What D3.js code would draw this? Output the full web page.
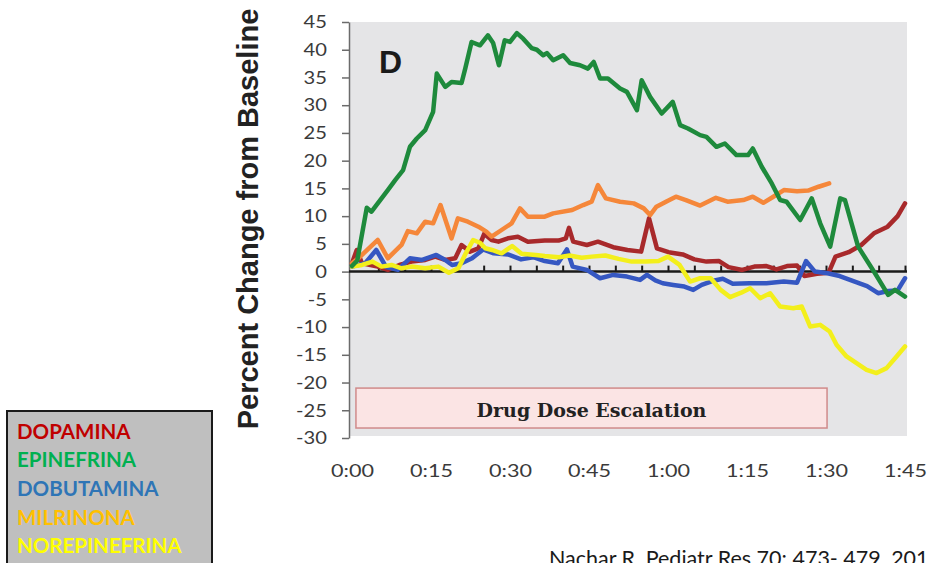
<!DOCTYPE html>
<html>
<head>
<meta charset="utf-8">
<script src="https://cdn.jsdelivr.net/npm/d3@7"></script>
<style>
  html, body { margin: 0; padding: 0; background: #ffffff; }
  svg { display: block; }
</style>
</head>
<body>
<svg id="chart" width="929" height="563"></svg>
<script>
// ---------- DATA (minutes, percent change from baseline) ----------
const dopamina = [
  [0,1.5],[0.9,3.9],[1.9,1.5],[4.9,0.9],[6.8,0.3],[9,1.2],[11.3,1.8],[13.9,2.1],[15.8,2.7],
  [17.7,2.1],[19.6,2.4],[20.8,4.8],[22.4,3.6],[24,4.2],[25.1,6.8],[26.5,5.7],[27.8,5.4],
  [29.6,6],[31.5,6.3],[33.4,5.4],[36.6,5.6],[39.2,5.6],[40.6,6],[41.2,7.9],[42,5.4],
  [44.6,4.8],[46.7,5.4],[49.6,4.4],[52.3,3.9],[54.9,3.6],[56.4,9.6],[57.9,4.2],[60.1,3.5],
  [62.8,3.1],[65,2.2],[67.3,1.8],[69.7,1.9],[71.5,0.8],[74.1,0.3],[76.4,0.9],[78.7,1],
  [80.6,0.4],[82.6,1],[84.5,1.1],[85.9,-0.8],[88.3,-0.4],[90.5,-0.2],[91.8,2.7],[94.3,3.5],
  [96.7,4.8],[99.1,6.9],[101.7,8.1],[103.6,10],[105,12.3]
];
const epinefrina = [
  [0,1],[1,2],[2.8,11.5],[3.7,10.8],[6.8,14.7],[8.2,16.5],[9.7,18.3],[11,22.5],[12.3,24],
  [13.9,25.5],[15.4,28.8],[16.1,35.7],[17.7,33.3],[18.9,34.2],[20.8,34],[21.5,36.6],
  [22.7,41.4],[24.3,40.8],[25.8,42.6],[26.8,41.2],[27.9,37.2],[29,41.7],[30,41.4],[31.3,43],
  [32.5,42],[34.1,40.3],[35.1,40],[36.3,39],[37,39.4],[38.2,38.1],[40.1,39],[41.4,37.6],
  [43.3,37.2],[44.8,36.6],[45.9,37.8],[47.1,34.8],[48.6,34.8],[50.9,33],[52.2,32.4],
  [54.1,29.1],[55,34.5],[56.6,31.5],[58.8,28.5],[60.9,30.6],[62.3,26.4],[63.8,25.8],
  [66.1,24.6],[67.3,24.3],[69.2,22.5],[70.8,23.1],[73,21],[75.2,21],[76.1,22.2],[77.8,18.9],
  [79.7,15.9],[81.3,12.9],[82.5,12.6],[85.1,9.3],[87.3,13.2],[88.9,8.7],[90.8,4.5],
  [92.7,13.2],[93.6,12.9],[96.1,4.5],[99.3,-0.3],[101.8,-4.2],[103.1,-3.3],[105,-4.5]
];
const dobutamina = [
  [0,0.9],[2.5,1.5],[4.6,3.9],[6.5,0.8],[8.7,0.3],[11,2.4],[13.3,2.1],[16,3],[17.7,2.1],
  [19,1.2],[20.8,1.5],[22.8,2.4],[24.9,4],[26.9,3.3],[29.6,3.1],[32.1,2.2],[34.4,2.6],
  [36.6,1.9],[39.1,1.5],[40.8,4],[41.9,0.9],[44.6,0.3],[47.1,-1.2],[49.6,-0.6],[52.2,-0.9],
  [54.7,-1.5],[56,-0.6],[57.6,-1.6],[59,-2.1],[61,-2.4],[63.1,-2.7],[64.8,-3.3],[66.4,-2.4],
  [68.4,-1.7],[70.4,-1.3],[72.3,-2.2],[75.5,-2.1],[78.7,-2.1],[82,-1.8],[84.5,-2],[86.2,1.9],
  [87.9,0],[90.3,-0.3],[92.6,-0.8],[95.2,-1.7],[97.8,-2.6],[99.9,-3.9],[101.8,-3.5],
  [103.6,-3.4],[105,-1.2]
];
const milrinona = [
  [0,1.5],[1.2,2.4],[4.9,5.7],[6.8,2.4],[9.4,4.8],[10.6,7.3],[12.3,6.9],[13.9,9],[15.4,8.7],
  [16.8,12],[18.9,6],[20.1,9.6],[22,9],[24,8.1],[25.5,7.2],[26.5,6.3],[28.4,7.5],[30.3,8.7],
  [31.9,11.4],[33.4,9.9],[36.6,9.9],[38.2,10.5],[41.8,11.1],[43.9,12],[45.5,12.6],[46.7,15.6],
  [48.2,13.2],[50.9,12.6],[53.5,12.3],[55.4,11.4],[56.6,10.2],[57.8,11.7],[59.8,12.7],
  [61.5,13.5],[63.4,12.9],[66.1,11.9],[69.1,13.3],[71.3,12.6],[74.3,12.9],[76.1,13.5],
  [78.1,12.4],[80,13.5],[82,14.7],[84.5,14.5],[86.6,14.6],[88.6,15.3],[90.6,15.9]
];
const norepinefrina = [
  [0,0.9],[1.9,1.2],[3.9,1.8],[5.6,0.9],[7.5,1.2],[9.4,0.6],[11.3,0.9],[13.9,0.6],[16.4,0.9],
  [18.4,-0.2],[20.2,0.6],[21.6,3.3],[23,5.7],[24.3,5.2],[25.3,4.2],[26.6,3.9],[28.4,3.3],
  [30.4,4.6],[32.2,3.2],[34.9,3],[36.6,2.8],[39.3,2.6],[41.3,2.9],[43.6,2.5],[45.5,2.7],
  [48.1,2.9],[50.6,2.3],[53.1,1.8],[55.7,1.8],[58.2,1.9],[60,2.7],[62.2,1.2],[64.2,-1.8],
  [66.1,-1.2],[68.1,-1.2],[70,-3.3],[71.8,-4.6],[73.9,-3.8],[75.6,-3],[77.5,-4.8],[79.4,-3.9],
  [81.3,-6.3],[83.8,-6.6],[85.4,-6.3],[87,-9.9],[88.9,-9.6],[90.7,-10.8],[92,-13.2],
  [93.9,-15.3],[95.8,-16.5],[97.7,-17.7],[99.6,-18.3],[101.5,-17.4],[103.4,-15.3],[105,-13.5]
];

const yTicks = [-30,-25,-20,-15,-10,-5,0,5,10,15,20,25,30,35,40,45];
const xTickMinutes = [0,15,30,45,60,75,90,105];
const zeroTickMinutes = [5,10,15,20,25,30,35,40,45,50,55,60,65,70,75,80,85,90,95,100,105];
const legendNames = ["DOPAMINA","EPINEFRINA","DOBUTAMINA","MILRINONA","NOREPINEFRINA"];
const legendColors = ["#c00000","#00b050","#2e75b6","#ffc000","#ffff00"];
const escalationSpan = [0.75, 90.2];     // minutes
const escalationRange = [-21, -28.2];    // percent

// ---------- LAYOUT ----------
const svg = d3.select("#chart");
const x = d3.scaleLinear().domain([0,105]).range([352,905]);
const y = d3.scaleLinear().domain([-30,45]).range([438,22]);

// plot background
svg.append("rect").attr("x",349).attr("y",22).attr("width",558).attr("height",414)
  .attr("fill","#e5e5e7");

// Y axis
const yAxis = svg.append("g").attr("transform","translate(349,0)")
  .call(d3.axisLeft(y).tickValues(yTicks).tickSize(7).tickSizeOuter(0)
        .tickFormat(d => String(d)));
yAxis.select(".domain").attr("stroke","#6b6b6b").attr("stroke-width",1.5);
yAxis.selectAll(".tick line").attr("stroke","#6b6b6b").attr("stroke-width",1.5);
yAxis.selectAll(".tick text")
  .attr("font-family","Lato, 'Open Sans', sans-serif").attr("font-size",18)
  .attr("fill","#3a3a3a").attr("x",0).attr("dx",0)
  .attr("transform","translate(-22,0) scale(1.12,1)");

// X tick labels
const fmt = m => Math.floor(m/60) + ":" + String(m%60).padStart(2,"0");
const xAxis = svg.append("g").attr("transform","translate(0,458)")
  .call(d3.axisBottom(x).tickValues(xTickMinutes).tickSize(0).tickFormat(fmt));
xAxis.select(".domain").remove();
xAxis.selectAll(".tick text")
  .attr("font-family","Lato, 'Open Sans', sans-serif").attr("font-size",18)
  .attr("fill","#3a3a3a").attr("y",6)
  .attr("transform","scale(1.2,1)");

// zero line with ticks pointing up
svg.append("line").attr("x1",349).attr("x2",907).attr("y1",y(0)).attr("y2",y(0))
  .attr("stroke","#1a1a1a").attr("stroke-width",2.5);
const zAxis = svg.append("g").attr("transform",`translate(0,${y(0)})`)
  .call(d3.axisBottom(x).tickValues(zeroTickMinutes).tickSize(-6).tickFormat(""));
zAxis.select(".domain").remove();
zAxis.selectAll(".tick line").attr("stroke","#1a1a1a").attr("stroke-width",2);

// Drug dose escalation box
svg.append("rect")
  .attr("x",x(escalationSpan[0])).attr("y",y(escalationRange[0]))
  .attr("width",x(escalationSpan[1])-x(escalationSpan[0]))
  .attr("height",y(escalationRange[1])-y(escalationRange[0]))
  .attr("fill","#fbe4e4").attr("stroke","#d08a8a").attr("stroke-width",1.5);
svg.append("text")
  .attr("x",(x(escalationSpan[0])+x(escalationSpan[1]))/2).attr("y",417)
  .attr("text-anchor","middle")
  .attr("font-family","'DejaVu Serif', 'Liberation Serif', serif").attr("font-weight","bold")
  .attr("font-size",19).attr("fill","#222")
  .text("Drug Dose Escalation");

// series
const line = d3.line().x(d => x(d[0])).y(d => y(d[1]));
const seriesList = [
  {data: dopamina, color: "#a8292b"},
  {data: milrinona, color: "#f5873a"},
  {data: dobutamina, color: "#3557c2"},
  {data: norepinefrina, color: "#f3ef1c"},
  {data: epinefrina, color: "#1e8a3c"}
];
svg.append("g").selectAll("path").data(seriesList).join("path")
  .attr("d", s => line(s.data))
  .attr("fill","none").attr("stroke", s => s.color)
  .attr("stroke-width",4.5).attr("stroke-linejoin","round").attr("stroke-linecap","round");

// panel letter
svg.append("text").attr("x",379).attr("y",73)
  .attr("font-family","'Liberation Sans', Arial, sans-serif").attr("font-weight","bold")
  .attr("font-size",32).attr("fill","#1a1a1a").text("D");

// Y title
svg.append("text")
  .attr("transform","translate(258,219) rotate(-90)")
  .attr("text-anchor","middle")
  .attr("font-family","'Liberation Sans', Arial, sans-serif").attr("font-weight","bold")
  .attr("font-size",29).attr("fill","#222")
  .text("Percent Change from Baseline");

// legend box
svg.append("rect").attr("x",7).attr("y",411).attr("width",205).attr("height",170)
  .attr("fill","#bfbfbf").attr("stroke","#1a1a1a").attr("stroke-width",2);
svg.append("g").selectAll("text").data(legendNames).join("text")
  .attr("x",17).attr("y",(d,i) => 438.5 + i*28.7)
  .attr("font-family","Lato, 'Open Sans', sans-serif").attr("font-weight","bold")
  .attr("font-size",20.5).attr("fill",(d,i) => legendColors[i])
  .text(d => d);

// citation (runs off the right edge, as in the reference)
svg.append("text").attr("x",549).attr("y",566)
  .attr("font-family","Lato, 'Open Sans', sans-serif").attr("font-size",21.5)
  .attr("fill","#1a1a1a")
  .text("Nachar R. Pediatr Res 70: 473- 479, 2011");
</script>
</body>
</html>
